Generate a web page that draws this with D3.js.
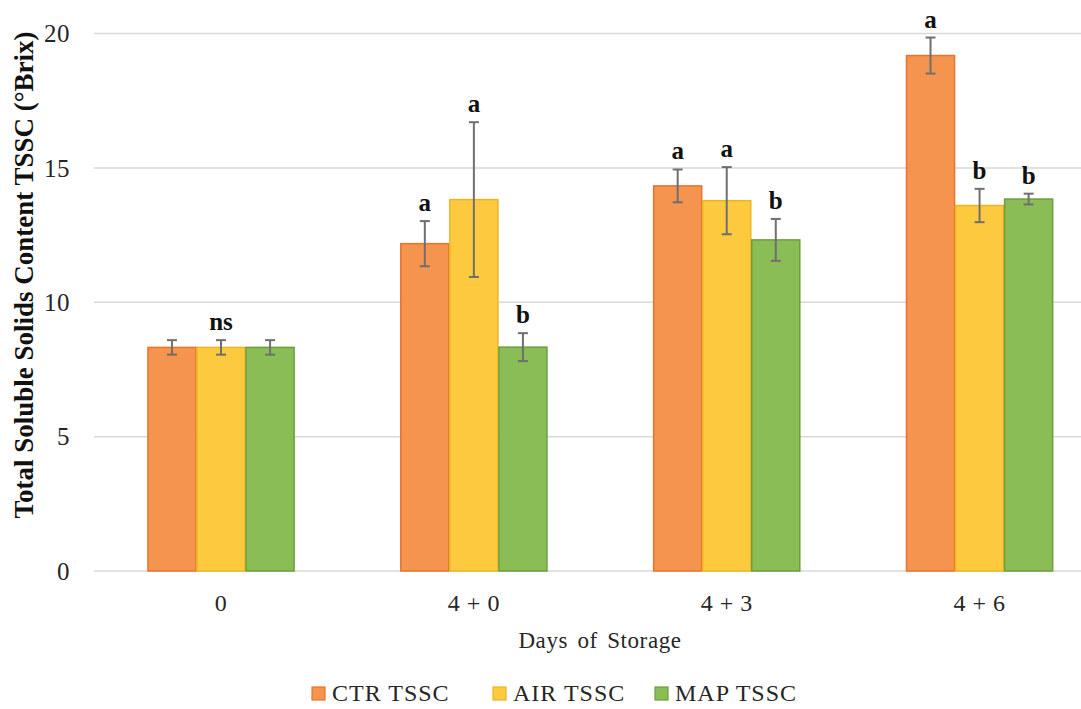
<!DOCTYPE html>
<meta charset="utf-8">
<style>
body { margin: 0; background: #fff; }
svg { display: block; font-family: "Liberation Serif", "Times New Roman", serif; }
.grid line { stroke: #d9d9d9; stroke-width: 1.5px; }
.tick-label { font-size: 24px; fill: #262626; }
.sig { font-size: 25px; font-weight: bold; fill: #111; text-anchor: middle; }
.err { stroke: #6f6f6f; stroke-width: 2px; }
</style>
<body>
<script src="https://d3js.org/d3.v7.min.js"></script>
<script>
var width = 1081,
    height = 709;

// data
var days = ["0", "4 + 0", "4 + 3", "4 + 6"];
var series = ["CTR TSSC", "AIR TSSC", "MAP TSSC"];
var ctr = [8.32, 12.18, 14.33, 19.18];
var air = [8.32, 13.82, 13.78, 13.6];
var map = [8.32, 8.33, 12.32, 13.84];
var ctrErr = [0.27, 0.84, 0.61, 0.67];
var airErr = [0.27, 2.88, 1.25, 0.62];
var mapErr = [0.27, 0.52, 0.78, 0.2];
var ctrSig = ["", "a", "a", "a"];
var airSig = ["ns", "a", "a", "b"];
var mapSig = ["", "b", "b", "b"];
var yTicks = [0, 5, 10, 15, 20];

var fills = ["#f5944e", "#fdc93f", "#8bbd57"];
var strokes = ["#e6742c", "#ecb421", "#6c9e3d"];

var values = [ctr, air, map];
var errs = [ctrErr, airErr, mapErr];
var sigs = [ctrSig, airSig, mapSig];

var svg = d3.select("body").append("svg")
    .attr("width", width)
    .attr("height", height);

var x = d3.scaleBand()
    .domain(days)
    .range([94.6, 1106])
    .paddingInner(0.418)
    .paddingOuter(0.209);

var xs = d3.scaleBand()
    .domain(series)
    .range([0, x.bandwidth()]);

var y = d3.scaleLinear()
    .domain([0, 20])
    .range([571, 33.5]);

// gridlines
svg.append("g")
    .attr("class", "grid")
  .selectAll("line")
  .data(yTicks)
  .enter().append("line")
    .attr("x1", 94)
    .attr("x2", 1106)
    .attr("y1", function(d) { return y(d); })
    .attr("y2", function(d) { return y(d); });

// y tick labels
svg.append("g")
  .selectAll("text")
  .data(yTicks)
  .enter().append("text")
    .attr("class", "tick-label")
    .style("font-size", "25px")
    .attr("x", 70)
    .attr("y", function(d) { return y(d); })
    .attr("dy", "0.35em")
    .attr("text-anchor", "end")
    .attr("letter-spacing", "0.5px")
    .text(function(d) { return d; });

// x tick labels
svg.append("g")
  .selectAll("text")
  .data(days)
  .enter().append("text")
    .attr("class", "tick-label")
    .attr("x", function(d) { return x(d) + x.bandwidth() / 2; })
    .attr("y", 611)
    .attr("text-anchor", "middle")
    .attr("letter-spacing", "0.5px")
    .text(function(d) { return d; });

// flatten rows for the marks
var rows = [];
series.forEach(function(s, i) {
  days.forEach(function(day, j) {
    rows.push({ s: s, i: i, day: day, v: values[i][j], e: errs[i][j], sig: sigs[i][j] });
  });
});

svg.append("g")
  .selectAll("rect")
  .data(rows)
  .enter().append("rect")
    .attr("x", function(d) { return x(d.day) + xs(d.s) + 0.5; })
    .attr("y", function(d) { return y(d.v); })
    .attr("width", xs.bandwidth() - 1)
    .attr("height", function(d) { return y(0) - y(d.v); })
    .attr("fill", function(d) { return fills[d.i]; })
    .attr("stroke", function(d) { return strokes[d.i]; })
    .attr("stroke-width", 1.5);

var eb = svg.append("g").attr("class", "err")
  .selectAll("g")
  .data(rows)
  .enter().append("g")
    .attr("transform", function(d) { return "translate(" + (x(d.day) + xs(d.s) + xs.bandwidth() / 2) + ",0)"; });

eb.append("line")
    .attr("y1", function(d) { return y(d.v + d.e); })
    .attr("y2", function(d) { return y(d.v - d.e); });
eb.append("line")
    .attr("x1", -5).attr("x2", 5)
    .attr("y1", function(d) { return y(d.v + d.e); })
    .attr("y2", function(d) { return y(d.v + d.e); });
eb.append("line")
    .attr("x1", -5).attr("x2", 5)
    .attr("y1", function(d) { return y(d.v - d.e); })
    .attr("y2", function(d) { return y(d.v - d.e); });

// significance letters
svg.append("g")
  .selectAll("text")
  .data(rows.filter(function(d) { return d.sig; }))
  .enter().append("text")
    .attr("class", "sig")
    .attr("x", function(d) { return x(d.day) + xs(d.s) + xs.bandwidth() / 2; })
    .attr("y", function(d) { return y(d.v + d.e) - 10; })
    .text(function(d) { return d.sig; });

// axis titles
svg.append("text")
    .attr("transform", "translate(33,275) rotate(-90)")
    .attr("text-anchor", "middle")
    .style("font-size", "27px")
    .style("font-weight", "bold")
    .attr("fill", "#111")
    .text("Total Soluble Solids Content TSSC (°Brix)");

svg.append("text")
    .attr("x", 600)
    .attr("y", 648)
    .attr("text-anchor", "middle")
    .attr("letter-spacing", "0.6px")
    .attr("word-spacing", "3px")
    .style("font-size", "23px")
    .attr("fill", "#262626")
    .text("Days of Storage");

// legend
var legX = [312, 493, 655];
var leg = svg.append("g")
  .selectAll("g")
  .data(series)
  .enter().append("g")
    .attr("transform", function(d, i) { return "translate(" + legX[i] + ",687)"; });

leg.append("rect")
    .attr("width", 13)
    .attr("height", 13)
    .attr("fill", function(d, i) { return fills[i]; })
    .attr("stroke", function(d, i) { return strokes[i]; })
    .attr("stroke-width", 1.2);

leg.append("text")
    .attr("x", 20)
    .attr("y", 14)
    .attr("letter-spacing", "1px")
    .style("font-size", "24px")
    .attr("fill", "#262626")
    .text(function(d) { return d; });
</script>
</body>
